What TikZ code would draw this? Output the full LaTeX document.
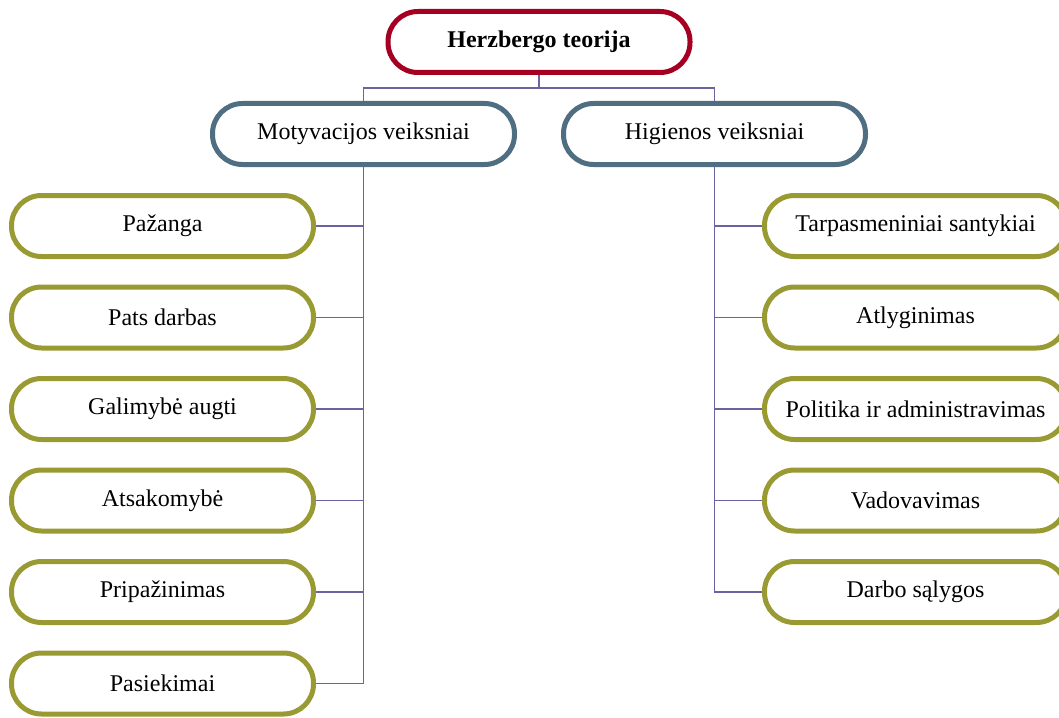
\documentclass[tikz,border=0pt]{standalone}
\usepackage{fontspec}
\setmainfont{Liberation Serif}
\definecolor{hzred}{HTML}{A50021}
\definecolor{hzblue}{HTML}{4F6E82}
\definecolor{hzolive}{HTML}{9A9A33}
\definecolor{hzline}{HTML}{6B62A0}
\tikzset{
  pill/.style={draw, line width=2.5pt, fill=white, rounded corners=15pt,
    minimum width=151pt, minimum height=30.5pt, inner sep=0pt, font=\fontsize{12}{14}\selectfont},
  conn/.style={draw=hzline, line width=0.8pt}
}
\begin{document}
\begin{tikzpicture}[x=0.5pt,y=-0.5pt]
		\useasboundingbox (0,0) rectangle (1059,717);
		\clip (0,0) rectangle (1059,717);
		\coordinate (j) at (539,88);
		
		\node [pill, draw=hzred] (hz) at (539,42) {\textbf{Herzbergo teorija}};
		\node [pill, draw=hzblue] (mot) at (363.5,134) {Motyvacijos veiksniai};
		\node [pill, draw=hzblue] (hig) at (714.5,134) {Higienos veiksniai};
		
		\foreach \t [count=\i] in {Pažanga, Pats darbas, Galimybė augti, Atsakomybė, Pripažinimas, Pasiekimai}
			\node [pill, draw=hzolive] (m\i) at (162.5,{226+91.5*(\i-1)}) {\t};
		\foreach \t [count=\i] in {Tarpasmeniniai santykiai, Atlyginimas, Politika ir administravimas, Vadovavimas, Darbo sąlygos}
			\node [pill, draw=hzolive] (h\i) at (915.5,{226+91.5*(\i-1)}) {\t};
		
		\begin{scope}[on background layer/.try]
		\draw [conn] (hz.south) -- (j);
		\draw [conn] (mot.north) |- (j) -| (hig.north);
		\foreach \i in {1,...,6} \draw [conn] (m\i.east) -| (mot.south);
		\foreach \i in {1,...,5} \draw [conn] (h\i.west) -| (hig.south);
		\end{scope}
		\end{tikzpicture}
\end{document}
